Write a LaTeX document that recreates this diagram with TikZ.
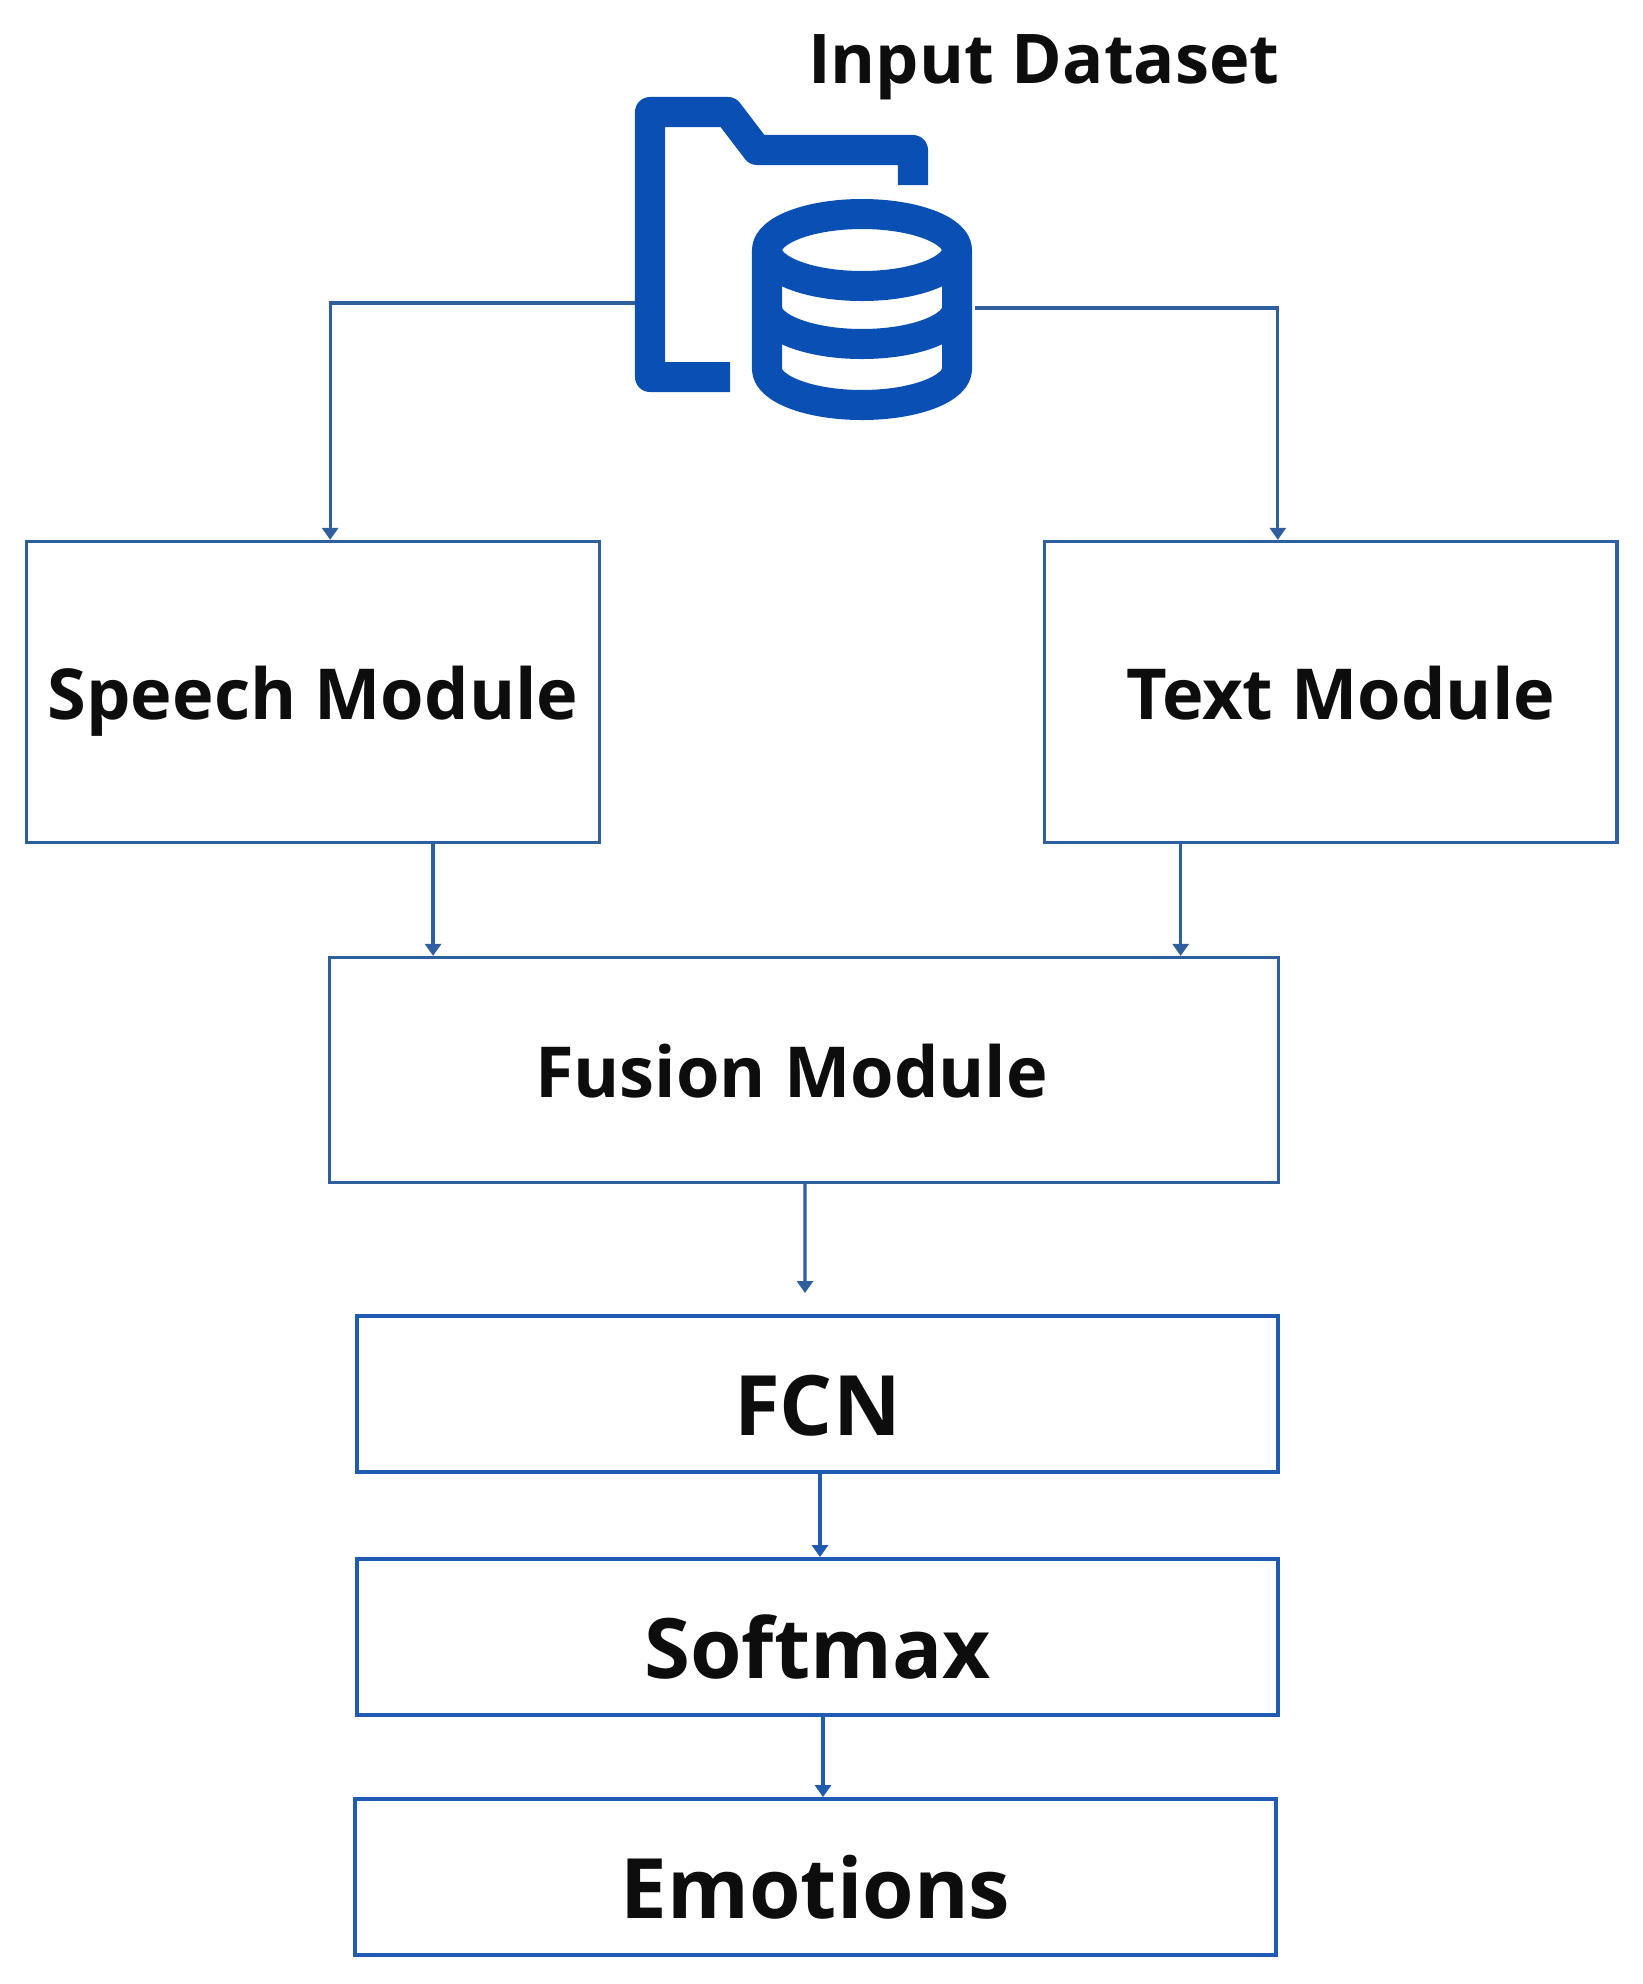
\documentclass[tikz,border=0pt]{standalone}
\usepackage{fontspec}
\setmainfont{Open Sans}
\usepackage{xcolor}
\usetikzlibrary{arrows.meta,positioning}
\definecolor{boxline}{HTML}{2F5F9E}
\definecolor{boxdeep}{HTML}{1F5BB0}
\definecolor{iconblue}{HTML}{0A50B4}
\definecolor{inkdark}{HTML}{0D0D0D}

\begin{document}
\begin{tikzpicture}[
  x=0.01cm, y=0.01cm,
  box/.style={draw=boxline, line width=0.9pt, minimum width=#1, inner sep=0pt, text=inkdark, font=\fontsize{20}{24}\selectfont\bfseries},
  box/.default=5.72cm,
  topbox/.style={box, minimum height=3.01cm, text height=0.555cm, text depth=0pt},
  midbox/.style={box=9.48cm, minimum height=2.25cm, text height=0.555cm, text depth=0pt},
  lowbox/.style={box=9.21cm, draw=boxdeep, line width=1.1pt, minimum height=1.56cm, text height=0.82cm, text depth=0pt, font=\fontsize{23.7}{28}\selectfont\bfseries},
  icon/.style={draw=iconblue, line width=0.3cm, line join=round},
  arr/.style={-{Triangle[width=1.6mm,length=1.2mm]}, draw=boxline, line width=0.9pt}
]
\useasboundingbox (0,0) rectangle (1643,-1984);
\node[text=inkdark, font=\fontsize{19.5}{23}\selectfont\bfseries] (title) at (1044,-67) {Input Dataset};
% folder and cylinder
\draw[icon] (730,-377) -- (650,-377) -- (650,-112) -- (728,-112) -- (757,-150) -- (913,-150) -- (913,-185);
\draw[icon] (862,-250) circle [x radius=95, y radius=36];
\draw[icon] (767,-250) -- (767,-369) arc [start angle=180, end angle=360, x radius=95, y radius=36] -- (957,-250);
\draw[icon] (767,-308) arc [start angle=180, end angle=360, x radius=95, y radius=36];
\coordinate (dataL) at (635,-303);
\coordinate (dataR) at (975,-308);

\node[topbox] (speech) at (313,-692) {Speech Module};
\node[topbox, right=4.42cm of speech] (text) {\hspace{0.2cm}Text Module};
\node[midbox] (fusion) at (804,-1070) {Fusion Module\hspace{0.25cm}\mbox{}};
\node[lowbox] (fcn) at (817.5,-1394) {FCN};
\node[lowbox, below=0.83cm of fcn] (softmax) {Softmax};
\node[lowbox, below=0.80cm of softmax, xshift=-0.02cm] (emotions) {Emotions};
\coordinate (fcnIn) at ([xshift=-0.125cm,yshift=0.21cm]fcn.north);

\draw[arr] (dataL) -| ([xshift=0.02cm]fusion.west |- speech.north);
\draw[arr] (dataR) -| ([xshift=-0.02cm]fusion.east |- text.north);
\draw[arr] ([xshift=1.2cm]speech.south) -- ([xshift=1.2cm]speech.south |- fusion.north);
\draw[arr] ([xshift=-1.5cm]text.south) -- ([xshift=-1.5cm]text.south |- fusion.north);
\draw[arr] ([xshift=0.01cm]fusion.south) -- (fcnIn);
\draw[arr, draw=boxdeep] ([xshift=0.025cm]fcn.south) -- ([xshift=0.025cm]fcn.south |- softmax.north);
\draw[arr, draw=boxdeep] ([xshift=0.055cm]softmax.south) -- ([xshift=0.055cm]softmax.south |- emotions.north);
\end{tikzpicture}
\end{document}
